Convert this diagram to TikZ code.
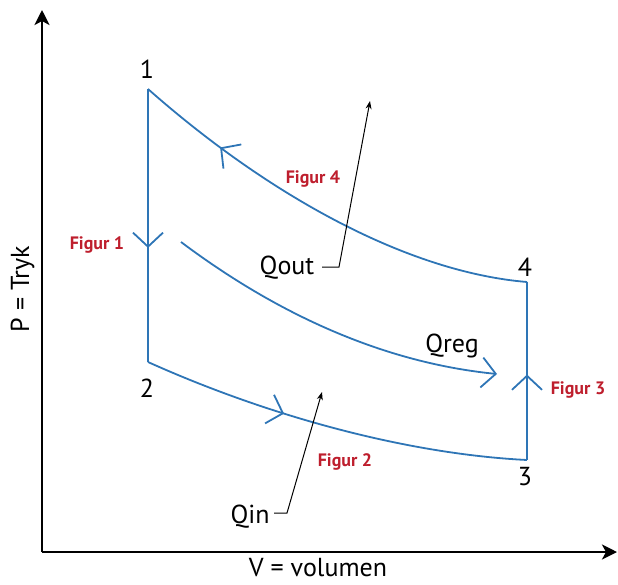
\documentclass[tikz,border=0pt]{standalone}
\usepackage{fontspec}
\setmainfont{PT Sans}
\usetikzlibrary{arrows.meta,decorations.markings}
\definecolor{cycblue}{RGB}{46,117,182}
\definecolor{figred}{RGB}{190,30,45}
\begin{document}
\begin{tikzpicture}[x=1pt,y=-1pt,
  cyc/.style={draw=cycblue, line width=1.8pt},
  midarrow/.style={postaction={decorate}, decoration={markings, mark=at position #1 with {\arrow{Straight Barb[length=14pt,width=30pt]}}}},
  axis/.style={draw=black, line width=2.8pt, -{Stealth[length=15pt,width=15pt,inset=4pt]}},
  leader/.style={draw=black, line width=1pt, -{Stealth[length=8pt,width=6pt]}},
  lbl/.style={font=\fontsize{26}{30}\selectfont, anchor=base, inner sep=0pt},
  fig/.style={font=\fontsize{18}{21}\selectfont\bfseries, text=figred, anchor=base, inner sep=0pt}]
\useasboundingbox (0,0) rectangle (618,584);
% axes
\coordinate (origin) at (42,552);
\coordinate (ytop) at (42,10);
\coordinate (xend) at (617,552);
\draw[axis] (origin) -- (ytop);
\draw[axis] (origin) -- (xend);
\node[lbl, rotate=90] (ylab) at (29,289) {P = Tryk};
\node[lbl] (xlab) at (318,576) {V = volumen};
% state points
\coordinate (p1) at (148,89);
\coordinate (p2) at (148,362);
\coordinate (p3) at (527,460);
\coordinate (p4) at (527,282);
\node[lbl] (n1) at (147,78) {1};
\node[lbl] (n2) at (147,397) {2};
\node[lbl] (n3) at (525,485) {3};
\node[lbl] (n4) at (525,276) {4};
% cycle
\draw[cyc, midarrow=0.582] (p1) -- (p2);
\draw[cyc, midarrow=0.37] (p2) .. controls (268,416) and (407,454) .. (p3);
\draw[cyc, midarrow=0.48] (p3) -- (p4);
\draw[cyc, midarrow=0.785] (p4) .. controls (407,272) and (268,195) .. (p1);
% regenerator curve
\coordinate (rA) at (181,242);
\coordinate (rB) at (497,374);
\draw[cyc, -{Straight Barb[length=14pt,width=30pt]}] (rA) .. controls (281,317) and (387,363) .. (rB);
\node[lbl] (qreg) at (452,352) {Qreg};
% figure labels
\node[fig] (f1) at (97,249) {Figur 1};
\node[fig] (f2) at (345,466) {Figur 2};
\node[fig] (f3) at (578,394) {Figur 3};
\node[fig] (f4) at (313,183) {Figur 4};
% heat leaders
\node[lbl] (qout) at (287,274) {Qout};
\coordinate (qoutA) at (322,267);
\coordinate (qoutB) at (339,267);
\coordinate (qoutTip) at (370,101);
\draw[leader] (qoutA) -- (qoutB) -- (qoutTip);
\node[lbl] (qin) at (250,523) {Qin};
\coordinate (qinA) at (274,513);
\coordinate (qinB) at (287,513);
\coordinate (qinTip) at (322,392);
\draw[leader] (qinA) -- (qinB) -- (qinTip);
\end{tikzpicture}
\end{document}
